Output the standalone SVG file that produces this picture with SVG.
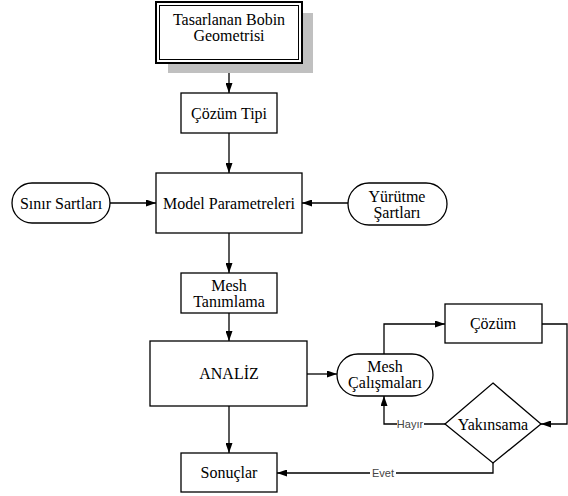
<svg xmlns="http://www.w3.org/2000/svg" width="568" height="496" viewBox="0 0 568 496">
<style>
.box{fill:#fff;stroke:#000;stroke-width:1.3}
.t{font-family:"Liberation Serif","Times New Roman",serif;font-size:16px;fill:#000;text-anchor:middle;dominant-baseline:central}
.c{fill:none;stroke:#000;stroke-width:1.3}
.lbl{font-family:"Liberation Sans",Arial,sans-serif;font-size:11px;fill:#444;text-anchor:middle;dominant-baseline:central}
</style>
<defs>
<marker id="ah" viewBox="0 0 10 7" refX="10" refY="3.5" markerWidth="10" markerHeight="7" markerUnits="userSpaceOnUse" orient="auto">
<path d="M0,0 L10,3.5 L0,7 z" fill="#000"/>
</marker>
</defs>
<rect width="568" height="496" fill="#fff"/>
<g id="connectors">
<line class="c" x1="229" y1="63" x2="229" y2="93" marker-end="url(#ah)"/>
<line class="c" x1="229" y1="133" x2="229" y2="173" marker-end="url(#ah)"/>
<line class="c" x1="110" y1="203" x2="156" y2="203" marker-end="url(#ah)"/>
<line class="c" x1="348" y1="203" x2="302" y2="203" marker-end="url(#ah)"/>
<line class="c" x1="229" y1="233" x2="229" y2="273" marker-end="url(#ah)"/>
<line class="c" x1="229" y1="313" x2="229" y2="341" marker-end="url(#ah)"/>
<line class="c" x1="229" y1="406" x2="229" y2="453" marker-end="url(#ah)"/>
<line class="c" x1="307" y1="374" x2="337" y2="374" marker-end="url(#ah)"/>
<polyline class="c" points="384,354 384,324 445,324" marker-end="url(#ah)"/>
<polyline class="c" points="542,324 567,324 567,424 541,424" marker-end="url(#ah)"/>
<polyline class="c" points="445,424 384,424 384,396" marker-end="url(#ah)"/>
<polyline class="c" points="493,463 493,473 277,473" marker-end="url(#ah)"/>
<rect x="397" y="418" width="27" height="12" fill="#fff"/>
<text class="lbl" x="410" y="424">Hayır</text>
<rect x="370" y="467" width="26" height="12" fill="#fff"/>
<text class="lbl" x="383" y="473">Evet</text>
</g>
<g id="n_geometri">
<rect x="168" y="13" width="145" height="60" fill="#c0c0c0"/>
<rect x="156" y="2" width="146" height="61" fill="#fff" stroke="#000" stroke-width="2"/>
<rect x="159.5" y="5.5" width="139" height="54" fill="none" stroke="#000" stroke-width="1"/>
<text class="t" x="229" y="19">Tasarlanan Bobin</text>
<text class="t" x="229" y="35">Geometrisi</text>
</g>
<g id="n_cozumtipi">
<rect class="box" x="181" y="93" width="96" height="40"/>
<text class="t" x="229" y="113">Çözüm Tipi</text>
</g>
<g id="n_sinir">
<rect class="box" x="12" y="183" width="98" height="40" rx="20"/>
<text class="t" x="61" y="203">Sınır Sartları</text>
</g>
<g id="n_model">
<rect class="box" x="156" y="173" width="146" height="60"/>
<text class="t" x="229" y="203">Model Parametreleri</text>
</g>
<g id="n_yurutme">
<rect class="box" x="348" y="183" width="99" height="42" rx="21"/>
<text class="t" x="397" y="196">Yürütme</text>
<text class="t" x="397" y="212">Şartları</text>
</g>
<g id="n_mesh">
<rect class="box" x="181" y="273" width="96" height="40"/>
<text class="t" x="229" y="285">Mesh</text>
<text class="t" x="229" y="301">Tanımlama</text>
</g>
<g id="n_analiz">
<rect class="box" x="150" y="341" width="157" height="65"/>
<text class="t" x="229" y="373">ANALİZ</text>
</g>
<g id="n_meshcalisma">
<rect class="box" x="337" y="354" width="96" height="42" rx="21"/>
<text class="t" x="385" y="366">Mesh</text>
<text class="t" x="385" y="382">Çalışmaları</text>
</g>
<g id="n_cozum">
<rect class="box" x="445" y="304" width="97" height="39"/>
<text class="t" x="493" y="323">Çözüm</text>
</g>
<g id="n_yakinsama">
<polygon class="box" points="493,383 541,424 493,463 445,424"/>
<text class="t" x="493" y="424">Yakınsama</text>
</g>
<g id="n_sonuclar">
<rect class="box" x="181" y="453" width="96" height="39"/>
<text class="t" x="229" y="472">Sonuçlar</text>
</g>
</svg>
